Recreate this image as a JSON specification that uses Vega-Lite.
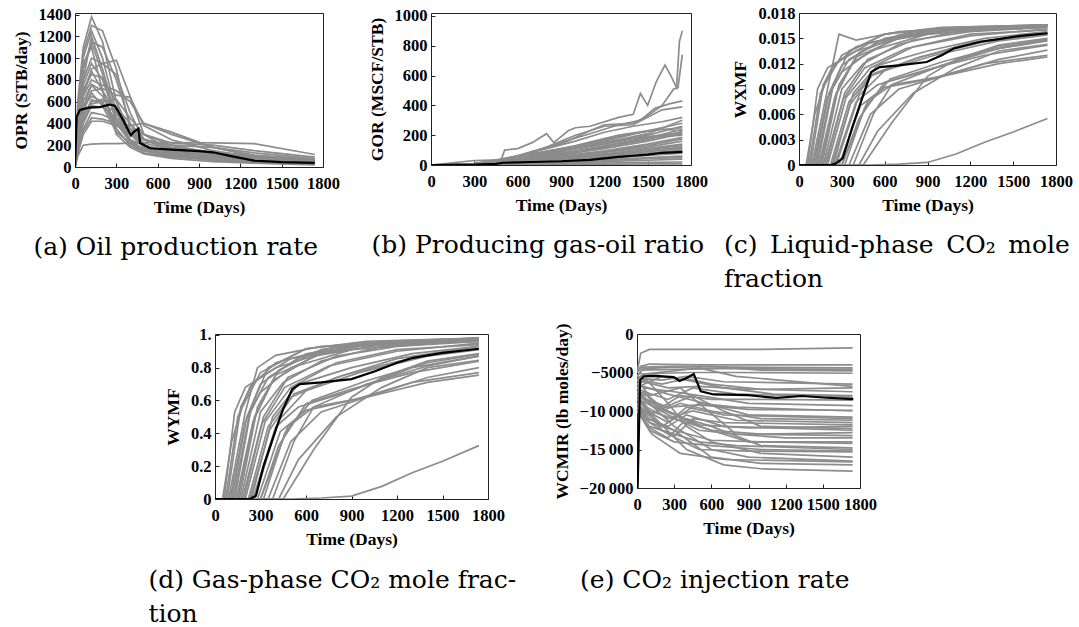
{
"$schema": "https://vega.github.io/schema/vega-lite/v6.json",
"padding": {"left": 11, "top": 4, "right": 0, "bottom": 0},
"background": "white",
"config": {
  "view": {"stroke": "#222", "strokeWidth": 1},
  "axis": {"domain": false, "grid": false, "labelFont": "Liberation Serif", "labelFontWeight": "bold", "labelFontSize": 16.5, "labelColor": "black", "titleFont": "Liberation Serif", "titleFontWeight": "bold", "titleFontSize": 17.5, "titleColor": "black", "tickColor": "#222", "tickSize": -4, "labelOverlap": false, "labelFlush": false, "labelBound": false},
  "axisX": {"labelPadding": 12, "titlePadding": 7},
  "axisY": {"labelPadding": 8, "titlePadding": 8},
  "title": {"font": "DejaVu Serif", "fontSize": 25, "fontWeight": "normal", "color": "black"},
  "line": {"strokeWidth": 1.7}
},
"datasets": {
"a": [
{"s":1,"t":0,"v":0},{"s":1,"t":20,"v":600},{"s":1,"t":60,"v":1100},{"s":1,"t":120,"v":1380},{"s":1,"t":200,"v":1150},{"s":1,"t":300,"v":600},{"s":1,"t":400,"v":300},{"s":1,"t":500,"v":180},{"s":1,"t":700,"v":120},{"s":1,"t":1000,"v":80},{"s":1,"t":1300,"v":55},{"s":1,"t":1740,"v":35},
{"s":2,"t":0,"v":0},{"s":2,"t":20,"v":500},{"s":2,"t":60,"v":1000},{"s":2,"t":120,"v":1250},{"s":2,"t":200,"v":1000},{"s":2,"t":300,"v":500},{"s":2,"t":400,"v":250},{"s":2,"t":500,"v":150},{"s":2,"t":700,"v":100},{"s":2,"t":1000,"v":70},{"s":2,"t":1300,"v":50},{"s":2,"t":1740,"v":30},
{"s":3,"t":0,"v":0},{"s":3,"t":20,"v":450},{"s":3,"t":60,"v":900},{"s":3,"t":120,"v":1150},{"s":3,"t":200,"v":1100},{"s":3,"t":300,"v":800},{"s":3,"t":400,"v":400},{"s":3,"t":500,"v":200},{"s":3,"t":700,"v":120},{"s":3,"t":1000,"v":80},{"s":3,"t":1300,"v":50},{"s":3,"t":1740,"v":30},
{"s":4,"t":0,"v":0},{"s":4,"t":20,"v":400},{"s":4,"t":60,"v":800},{"s":4,"t":120,"v":1000},{"s":4,"t":200,"v":950},{"s":4,"t":300,"v":980},{"s":4,"t":400,"v":650},{"s":4,"t":500,"v":300},{"s":4,"t":700,"v":150},{"s":4,"t":1000,"v":100},{"s":4,"t":1300,"v":60},{"s":4,"t":1740,"v":40},
{"s":5,"t":0,"v":0},{"s":5,"t":20,"v":350},{"s":5,"t":60,"v":750},{"s":5,"t":120,"v":950},{"s":5,"t":200,"v":800},{"s":5,"t":300,"v":450},{"s":5,"t":400,"v":250},{"s":5,"t":500,"v":160},{"s":5,"t":700,"v":110},{"s":5,"t":1000,"v":80},{"s":5,"t":1300,"v":55},{"s":5,"t":1740,"v":40},
{"s":6,"t":0,"v":0},{"s":6,"t":20,"v":300},{"s":6,"t":60,"v":700},{"s":6,"t":120,"v":880},{"s":6,"t":200,"v":700},{"s":6,"t":300,"v":350},{"s":6,"t":400,"v":200},{"s":6,"t":500,"v":130},{"s":6,"t":700,"v":90},{"s":6,"t":1000,"v":70},{"s":6,"t":1300,"v":50},{"s":6,"t":1740,"v":35},
{"s":7,"t":0,"v":0},{"s":7,"t":20,"v":300},{"s":7,"t":60,"v":650},{"s":7,"t":120,"v":800},{"s":7,"t":200,"v":750},{"s":7,"t":300,"v":700},{"s":7,"t":400,"v":600},{"s":7,"t":500,"v":400},{"s":7,"t":700,"v":300},{"s":7,"t":1000,"v":180},{"s":7,"t":1300,"v":100},{"s":7,"t":1740,"v":60},
{"s":8,"t":0,"v":0},{"s":8,"t":20,"v":250},{"s":8,"t":60,"v":550},{"s":8,"t":120,"v":750},{"s":8,"t":200,"v":650},{"s":8,"t":300,"v":400},{"s":8,"t":400,"v":250},{"s":8,"t":500,"v":200},{"s":8,"t":700,"v":130},{"s":8,"t":1000,"v":90},{"s":8,"t":1300,"v":60},{"s":8,"t":1740,"v":45},
{"s":9,"t":0,"v":0},{"s":9,"t":20,"v":250},{"s":9,"t":60,"v":500},{"s":9,"t":120,"v":700},{"s":9,"t":200,"v":720},{"s":9,"t":300,"v":660},{"s":9,"t":400,"v":640},{"s":9,"t":500,"v":380},{"s":9,"t":700,"v":250},{"s":9,"t":1000,"v":150},{"s":9,"t":1300,"v":90},{"s":9,"t":1740,"v":60},
{"s":10,"t":0,"v":0},{"s":10,"t":20,"v":200},{"s":10,"t":60,"v":450},{"s":10,"t":120,"v":620},{"s":10,"t":200,"v":580},{"s":10,"t":300,"v":500},{"s":10,"t":400,"v":350},{"s":10,"t":500,"v":250},{"s":10,"t":700,"v":200},{"s":10,"t":1000,"v":120},{"s":10,"t":1300,"v":80},{"s":10,"t":1740,"v":50},
{"s":11,"t":0,"v":0},{"s":11,"t":20,"v":200},{"s":11,"t":60,"v":400},{"s":11,"t":120,"v":560},{"s":11,"t":200,"v":550},{"s":11,"t":300,"v":450},{"s":11,"t":400,"v":300},{"s":11,"t":500,"v":250},{"s":11,"t":700,"v":180},{"s":11,"t":1000,"v":140},{"s":11,"t":1300,"v":100},{"s":11,"t":1740,"v":70},
{"s":12,"t":0,"v":0},{"s":12,"t":20,"v":150},{"s":12,"t":60,"v":350},{"s":12,"t":120,"v":500},{"s":12,"t":200,"v":480},{"s":12,"t":300,"v":420},{"s":12,"t":400,"v":380},{"s":12,"t":500,"v":400},{"s":12,"t":700,"v":320},{"s":12,"t":1000,"v":180},{"s":12,"t":1300,"v":110},{"s":12,"t":1740,"v":70},
{"s":13,"t":0,"v":0},{"s":13,"t":20,"v":150},{"s":13,"t":60,"v":330},{"s":13,"t":120,"v":450},{"s":13,"t":200,"v":440},{"s":13,"t":300,"v":400},{"s":13,"t":400,"v":350},{"s":13,"t":500,"v":300},{"s":13,"t":700,"v":220},{"s":13,"t":1000,"v":200},{"s":13,"t":1300,"v":150},{"s":13,"t":1740,"v":90},
{"s":14,"t":0,"v":0},{"s":14,"t":20,"v":120},{"s":14,"t":60,"v":300},{"s":14,"t":120,"v":420},{"s":14,"t":200,"v":420},{"s":14,"t":300,"v":380},{"s":14,"t":400,"v":300},{"s":14,"t":500,"v":250},{"s":14,"t":700,"v":200},{"s":14,"t":1000,"v":180},{"s":14,"t":1300,"v":130},{"s":14,"t":1740,"v":80},
{"s":15,"t":0,"v":0},{"s":15,"t":20,"v":100},{"s":15,"t":60,"v":200},{"s":15,"t":120,"v":210},{"s":15,"t":200,"v":215},{"s":15,"t":300,"v":215},{"s":15,"t":400,"v":220},{"s":15,"t":500,"v":225},{"s":15,"t":700,"v":225},{"s":15,"t":1000,"v":222},{"s":15,"t":1300,"v":215},{"s":15,"t":1740,"v":115},
{"s":16,"t":0,"v":0},{"s":16,"t":20,"v":350},{"s":16,"t":60,"v":800},{"s":16,"t":120,"v":1200},{"s":16,"t":200,"v":900},{"s":16,"t":300,"v":450},{"s":16,"t":400,"v":220},{"s":16,"t":500,"v":150},{"s":16,"t":700,"v":100},{"s":16,"t":1000,"v":60},{"s":16,"t":1300,"v":40},{"s":16,"t":1740,"v":25},
{"s":17,"t":0,"v":0},{"s":17,"t":20,"v":450},{"s":17,"t":60,"v":950},{"s":17,"t":120,"v":1100},{"s":17,"t":200,"v":700},{"s":17,"t":300,"v":300},{"s":17,"t":400,"v":180},{"s":17,"t":500,"v":120},{"s":17,"t":700,"v":80},{"s":17,"t":1000,"v":50},{"s":17,"t":1300,"v":35},{"s":17,"t":1740,"v":20},
{"s":18,"t":0,"v":0},{"s":18,"t":20,"v":300},{"s":18,"t":60,"v":650},{"s":18,"t":120,"v":900},{"s":18,"t":200,"v":950},{"s":18,"t":300,"v":850},{"s":18,"t":400,"v":500},{"s":18,"t":500,"v":250},{"s":18,"t":700,"v":150},{"s":18,"t":1000,"v":90},{"s":18,"t":1300,"v":60},{"s":18,"t":1740,"v":40},
{"s":19,"t":0,"v":0},{"s":19,"t":20,"v":250},{"s":19,"t":60,"v":550},{"s":19,"t":120,"v":650},{"s":19,"t":200,"v":600},{"s":19,"t":300,"v":350},{"s":19,"t":400,"v":200},{"s":19,"t":500,"v":150},{"s":19,"t":700,"v":120},{"s":19,"t":1000,"v":100},{"s":19,"t":1300,"v":70},{"s":19,"t":1740,"v":50},
{"s":20,"t":0,"v":0},{"s":20,"t":20,"v":200},{"s":20,"t":60,"v":420},{"s":20,"t":120,"v":580},{"s":20,"t":200,"v":600},{"s":20,"t":300,"v":620},{"s":20,"t":400,"v":450},{"s":20,"t":500,"v":300},{"s":20,"t":700,"v":200},{"s":20,"t":1000,"v":130},{"s":20,"t":1300,"v":90},{"s":20,"t":1740,"v":60},
{"s":21,"t":0,"v":0},{"s":21,"t":20,"v":500},{"s":21,"t":60,"v":1050},{"s":21,"t":120,"v":1300},{"s":21,"t":200,"v":1250},{"s":21,"t":300,"v":900},{"s":21,"t":400,"v":350},{"s":21,"t":500,"v":200},{"s":21,"t":700,"v":130},{"s":21,"t":1000,"v":80},{"s":21,"t":1300,"v":50},{"s":21,"t":1740,"v":30},
{"s":22,"t":0,"v":0},{"s":22,"t":20,"v":400},{"s":22,"t":60,"v":900},{"s":22,"t":120,"v":1150},{"s":22,"t":200,"v":850},{"s":22,"t":300,"v":400},{"s":22,"t":400,"v":230},{"s":22,"t":500,"v":160},{"s":22,"t":700,"v":110},{"s":22,"t":1000,"v":70},{"s":22,"t":1300,"v":45},{"s":22,"t":1740,"v":30},
{"s":23,"t":0,"v":0},{"s":23,"t":20,"v":350},{"s":23,"t":60,"v":700},{"s":23,"t":120,"v":850},{"s":23,"t":200,"v":820},{"s":23,"t":300,"v":600},{"s":23,"t":400,"v":320},{"s":23,"t":500,"v":200},{"s":23,"t":700,"v":140},{"s":23,"t":1000,"v":100},{"s":23,"t":1300,"v":65},{"s":23,"t":1740,"v":45},
{"s":24,"t":0,"v":0},{"s":24,"t":20,"v":300},{"s":24,"t":60,"v":600},{"s":24,"t":120,"v":760},{"s":24,"t":200,"v":700},{"s":24,"t":300,"v":500},{"s":24,"t":400,"v":300},{"s":24,"t":500,"v":220},{"s":24,"t":700,"v":160},{"s":24,"t":1000,"v":110},{"s":24,"t":1300,"v":75},{"s":24,"t":1740,"v":50},
{"s":25,"t":0,"v":0},{"s":25,"t":20,"v":280},{"s":25,"t":60,"v":560},{"s":25,"t":120,"v":680},{"s":25,"t":200,"v":560},{"s":25,"t":300,"v":320},{"s":25,"t":400,"v":220},{"s":25,"t":500,"v":170},{"s":25,"t":700,"v":130},{"s":25,"t":1000,"v":100},{"s":25,"t":1300,"v":75},{"s":25,"t":1740,"v":55},
{"s":26,"t":0,"v":0},{"s":26,"t":20,"v":220},{"s":26,"t":60,"v":480},{"s":26,"t":120,"v":600},{"s":26,"t":200,"v":620},{"s":26,"t":300,"v":550},{"s":26,"t":400,"v":400},{"s":26,"t":500,"v":260},{"s":26,"t":700,"v":170},{"s":26,"t":1000,"v":120},{"s":26,"t":1300,"v":85},{"s":26,"t":1740,"v":55}
],
"am": [
{"t":0,"v":0},{"t":12,"v":460},{"t":36,"v":525},{"t":100,"v":545},{"t":180,"v":550},{"t":250,"v":572},{"t":290,"v":562},{"t":350,"v":430},{"t":405,"v":292},{"t":425,"v":320},{"t":460,"v":352},{"t":472,"v":220},{"t":545,"v":172},{"t":700,"v":160},{"t":900,"v":145},{"t":1000,"v":135},{"t":1150,"v":95},{"t":1300,"v":58},{"t":1500,"v":45},{"t":1740,"v":38}
],
"b": [
{"s":1,"t":0,"v":0},{"s":1,"t":300,"v":5},{"s":1,"t":480,"v":20},{"s":1,"t":510,"v":100},{"s":1,"t":600,"v":110},{"s":1,"t":700,"v":150},{"s":1,"t":800,"v":210},{"s":1,"t":850,"v":150},{"s":1,"t":950,"v":230},{"s":1,"t":1000,"v":250},{"s":1,"t":1100,"v":260},{"s":1,"t":1300,"v":320},{"s":1,"t":1400,"v":340},{"s":1,"t":1450,"v":480},{"s":1,"t":1500,"v":400},{"s":1,"t":1560,"v":560},{"s":1,"t":1620,"v":670},{"s":1,"t":1660,"v":600},{"s":1,"t":1700,"v":520},{"s":1,"t":1720,"v":830},{"s":1,"t":1740,"v":900},
{"s":2,"t":0,"v":0},{"s":2,"t":300,"v":5},{"s":2,"t":500,"v":30},{"s":2,"t":700,"v":90},{"s":2,"t":900,"v":140},{"s":2,"t":1100,"v":230},{"s":2,"t":1200,"v":270},{"s":2,"t":1400,"v":280},{"s":2,"t":1500,"v":330},{"s":2,"t":1600,"v":400},{"s":2,"t":1680,"v":510},{"s":2,"t":1710,"v":520},{"s":2,"t":1740,"v":740},
{"s":3,"t":0,"v":0},{"s":3,"t":300,"v":5},{"s":3,"t":600,"v":50},{"s":3,"t":900,"v":150},{"s":3,"t":1100,"v":210},{"s":3,"t":1300,"v":270},{"s":3,"t":1450,"v":300},{"s":3,"t":1550,"v":380},{"s":3,"t":1650,"v":410},{"s":3,"t":1740,"v":430},
{"s":4,"t":0,"v":0},{"s":4,"t":300,"v":8},{"s":4,"t":600,"v":60},{"s":4,"t":800,"v":120},{"s":4,"t":1000,"v":200},{"s":4,"t":1200,"v":260},{"s":4,"t":1400,"v":270},{"s":4,"t":1600,"v":370},{"s":4,"t":1740,"v":390},
{"s":5,"t":0,"v":0},{"s":5,"t":300,"v":10},{"s":5,"t":500,"v":40},{"s":5,"t":800,"v":110},{"s":5,"t":1000,"v":160},{"s":5,"t":1200,"v":220},{"s":5,"t":1400,"v":260},{"s":5,"t":1600,"v":290},{"s":5,"t":1740,"v":320},
{"s":6,"t":0,"v":0},{"s":6,"t":300,"v":10},{"s":6,"t":600,"v":50},{"s":6,"t":900,"v":100},{"s":6,"t":1200,"v":160},{"s":6,"t":1500,"v":230},{"s":6,"t":1740,"v":280},
{"s":7,"t":0,"v":0},{"s":7,"t":300,"v":8},{"s":7,"t":600,"v":40},{"s":7,"t":900,"v":90},{"s":7,"t":1200,"v":140},{"s":7,"t":1500,"v":200},{"s":7,"t":1740,"v":260},
{"s":8,"t":0,"v":0},{"s":8,"t":300,"v":6},{"s":8,"t":600,"v":35},{"s":8,"t":900,"v":80},{"s":8,"t":1200,"v":120},{"s":8,"t":1500,"v":180},{"s":8,"t":1740,"v":240},
{"s":9,"t":0,"v":0},{"s":9,"t":300,"v":5},{"s":9,"t":600,"v":30},{"s":9,"t":900,"v":70},{"s":9,"t":1200,"v":110},{"s":9,"t":1500,"v":160},{"s":9,"t":1740,"v":210},
{"s":10,"t":0,"v":0},{"s":10,"t":300,"v":4},{"s":10,"t":600,"v":25},{"s":10,"t":900,"v":60},{"s":10,"t":1200,"v":95},{"s":10,"t":1500,"v":140},{"s":10,"t":1740,"v":185},
{"s":11,"t":0,"v":0},{"s":11,"t":300,"v":3},{"s":11,"t":600,"v":20},{"s":11,"t":900,"v":50},{"s":11,"t":1200,"v":85},{"s":11,"t":1500,"v":120},{"s":11,"t":1740,"v":160},
{"s":12,"t":0,"v":0},{"s":12,"t":300,"v":3},{"s":12,"t":600,"v":18},{"s":12,"t":900,"v":45},{"s":12,"t":1200,"v":75},{"s":12,"t":1500,"v":110},{"s":12,"t":1740,"v":140},
{"s":13,"t":0,"v":0},{"s":13,"t":300,"v":2},{"s":13,"t":600,"v":15},{"s":13,"t":900,"v":40},{"s":13,"t":1200,"v":65},{"s":13,"t":1500,"v":95},{"s":13,"t":1740,"v":120},
{"s":14,"t":0,"v":0},{"s":14,"t":300,"v":2},{"s":14,"t":600,"v":12},{"s":14,"t":900,"v":30},{"s":14,"t":1200,"v":55},{"s":14,"t":1500,"v":80},{"s":14,"t":1740,"v":100},
{"s":15,"t":0,"v":0},{"s":15,"t":300,"v":2},{"s":15,"t":600,"v":10},{"s":15,"t":900,"v":25},{"s":15,"t":1200,"v":45},{"s":15,"t":1500,"v":65},{"s":15,"t":1740,"v":80},
{"s":16,"t":0,"v":0},{"s":16,"t":300,"v":1},{"s":16,"t":600,"v":8},{"s":16,"t":900,"v":20},{"s":16,"t":1200,"v":35},{"s":16,"t":1500,"v":50},{"s":16,"t":1740,"v":60},
{"s":17,"t":0,"v":0},{"s":17,"t":300,"v":1},{"s":17,"t":600,"v":5},{"s":17,"t":900,"v":12},{"s":17,"t":1200,"v":22},{"s":17,"t":1500,"v":32},{"s":17,"t":1740,"v":40},
{"s":18,"t":0,"v":0},{"s":18,"t":300,"v":1},{"s":18,"t":600,"v":3},{"s":18,"t":900,"v":6},{"s":18,"t":1200,"v":12},{"s":18,"t":1500,"v":18},{"s":18,"t":1740,"v":20},
{"s":19,"t":0,"v":0},{"s":19,"t":300,"v":0},{"s":19,"t":600,"v":1},{"s":19,"t":900,"v":3},{"s":19,"t":1200,"v":5},{"s":19,"t":1500,"v":7},{"s":19,"t":1740,"v":8},
{"s":20,"t":0,"v":0},{"s":20,"t":300,"v":6},{"s":20,"t":500,"v":35},{"s":20,"t":700,"v":70},{"s":20,"t":1000,"v":130},{"s":20,"t":1300,"v":200},{"s":20,"t":1500,"v":230},{"s":20,"t":1740,"v":250},
{"s":21,"t":0,"v":0},{"s":21,"t":300,"v":4},{"s":21,"t":600,"v":30},{"s":21,"t":900,"v":100},{"s":21,"t":1200,"v":170},{"s":21,"t":1400,"v":210},{"s":21,"t":1600,"v":240},{"s":21,"t":1740,"v":230},
{"s":22,"t":0,"v":0},{"s":22,"t":300,"v":30},{"s":22,"t":480,"v":35},{"s":22,"t":600,"v":60},{"s":22,"t":900,"v":110},{"s":22,"t":1200,"v":150},{"s":22,"t":1500,"v":190},{"s":22,"t":1740,"v":215},
{"s":23,"t":0,"v":0},{"s":23,"t":300,"v":3},{"s":23,"t":600,"v":22},{"s":23,"t":900,"v":65},{"s":23,"t":1200,"v":120},{"s":23,"t":1500,"v":170},{"s":23,"t":1740,"v":225},
{"s":24,"t":0,"v":0},{"s":24,"t":300,"v":2},{"s":24,"t":600,"v":16},{"s":24,"t":900,"v":50},{"s":24,"t":1200,"v":90},{"s":24,"t":1500,"v":130},{"s":24,"t":1740,"v":175},
{"s":25,"t":0,"v":0},{"s":25,"t":300,"v":2},{"s":25,"t":600,"v":12},{"s":25,"t":900,"v":35},{"s":25,"t":1200,"v":70},{"s":25,"t":1500,"v":105},{"s":25,"t":1740,"v":130},
{"s":26,"t":0,"v":0},{"s":26,"t":300,"v":1},{"s":26,"t":600,"v":9},{"s":26,"t":900,"v":28},{"s":26,"t":1200,"v":50},{"s":26,"t":1500,"v":75},{"s":26,"t":1740,"v":90},
{"s":27,"t":0,"v":0},{"s":27,"t":300,"v":4},{"s":27,"t":600,"v":28},{"s":27,"t":900,"v":75},{"s":27,"t":1200,"v":130},{"s":27,"t":1500,"v":185},{"s":27,"t":1740,"v":200},
{"s":28,"t":0,"v":0},{"s":28,"t":300,"v":1},{"s":28,"t":600,"v":6},{"s":28,"t":900,"v":16},{"s":28,"t":1200,"v":30},{"s":28,"t":1500,"v":42},{"s":28,"t":1740,"v":50},
{"s":29,"t":0,"v":0},{"s":29,"t":300,"v":5},{"s":29,"t":600,"v":35},{"s":29,"t":900,"v":90},{"s":29,"t":1200,"v":150},{"s":29,"t":1500,"v":210},{"s":29,"t":1740,"v":300},
{"s":30,"t":0,"v":0},{"s":30,"t":300,"v":2},{"s":30,"t":600,"v":14},{"s":30,"t":900,"v":38},{"s":30,"t":1200,"v":60},{"s":30,"t":1500,"v":90},{"s":30,"t":1740,"v":110}
],
"bm": [
{"t":0,"v":0},{"t":300,"v":2},{"t":450,"v":8},{"t":500,"v":15},{"t":700,"v":20},{"t":900,"v":25},{"t":1100,"v":35},{"t":1200,"v":45},{"t":1300,"v":55},{"t":1400,"v":62},{"t":1500,"v":70},{"t":1600,"v":82},{"t":1740,"v":88}
],
"c": [
{"s":1,"t":0,"v":0},{"s":1,"t":60,"v":0},{"s":1,"t":130,"v":0.009},{"s":1,"t":200,"v":0.0115},{"s":1,"t":400,"v":0.0135},{"s":1,"t":700,"v":0.015},{"s":1,"t":1000,"v":0.016},{"s":1,"t":1740,"v":0.0165},
{"s":2,"t":0,"v":0},{"s":2,"t":80,"v":0},{"s":2,"t":170,"v":0.0095},{"s":2,"t":250,"v":0.012},{"s":2,"t":500,"v":0.0145},{"s":2,"t":900,"v":0.0158},{"s":2,"t":1740,"v":0.0163},
{"s":3,"t":0,"v":0},{"s":3,"t":100,"v":0},{"s":3,"t":200,"v":0.008},{"s":3,"t":300,"v":0.011},{"s":3,"t":500,"v":0.0135},{"s":3,"t":900,"v":0.0155},{"s":3,"t":1740,"v":0.0165},
{"s":4,"t":0,"v":0},{"s":4,"t":120,"v":0},{"s":4,"t":230,"v":0.009},{"s":4,"t":350,"v":0.0125},{"s":4,"t":600,"v":0.015},{"s":4,"t":1000,"v":0.016},{"s":4,"t":1740,"v":0.0166},
{"s":5,"t":0,"v":0},{"s":5,"t":150,"v":0},{"s":5,"t":260,"v":0.0085},{"s":5,"t":400,"v":0.0128},{"s":5,"t":700,"v":0.015},{"s":5,"t":1100,"v":0.0162},{"s":5,"t":1740,"v":0.0166},
{"s":6,"t":0,"v":0},{"s":6,"t":170,"v":0},{"s":6,"t":300,"v":0.009},{"s":6,"t":450,"v":0.012},{"s":6,"t":700,"v":0.0143},{"s":6,"t":1100,"v":0.0158},{"s":6,"t":1740,"v":0.0164},
{"s":7,"t":0,"v":0},{"s":7,"t":200,"v":0},{"s":7,"t":330,"v":0.008},{"s":7,"t":500,"v":0.0115},{"s":7,"t":800,"v":0.014},{"s":7,"t":1200,"v":0.0155},{"s":7,"t":1740,"v":0.016},
{"s":8,"t":0,"v":0},{"s":8,"t":220,"v":0},{"s":8,"t":350,"v":0.0075},{"s":8,"t":500,"v":0.0105},{"s":8,"t":800,"v":0.0125},{"s":8,"t":1200,"v":0.0145},{"s":8,"t":1740,"v":0.0157},
{"s":9,"t":0,"v":0},{"s":9,"t":250,"v":0},{"s":9,"t":400,"v":0.0075},{"s":9,"t":550,"v":0.0095},{"s":9,"t":900,"v":0.0112},{"s":9,"t":1300,"v":0.0135},{"s":9,"t":1740,"v":0.0148},
{"s":10,"t":0,"v":0},{"s":10,"t":280,"v":0},{"s":10,"t":430,"v":0.007},{"s":10,"t":600,"v":0.0092},{"s":10,"t":900,"v":0.0101},{"s":10,"t":1300,"v":0.012},{"s":10,"t":1740,"v":0.013},
{"s":11,"t":0,"v":0},{"s":11,"t":300,"v":0},{"s":11,"t":480,"v":0.0075},{"s":11,"t":650,"v":0.0095},{"s":11,"t":1000,"v":0.0105},{"s":11,"t":1400,"v":0.012},{"s":11,"t":1740,"v":0.0128},
{"s":12,"t":0,"v":0},{"s":12,"t":350,"v":0},{"s":12,"t":500,"v":0.006},{"s":12,"t":700,"v":0.009},{"s":12,"t":1000,"v":0.0105},{"s":12,"t":1400,"v":0.0125},{"s":12,"t":1740,"v":0.0136},
{"s":13,"t":0,"v":0},{"s":13,"t":420,"v":0},{"s":13,"t":550,"v":0.004},{"s":13,"t":800,"v":0.0085},{"s":13,"t":1100,"v":0.0115},{"s":13,"t":1400,"v":0.0135},{"s":13,"t":1740,"v":0.0143},
{"s":14,"t":0,"v":0},{"s":14,"t":450,"v":0},{"s":14,"t":650,"v":0.005},{"s":14,"t":900,"v":0.0105},{"s":14,"t":1100,"v":0.0125},{"s":14,"t":1400,"v":0.0142},{"s":14,"t":1740,"v":0.015},
{"s":15,"t":0,"v":0},{"s":15,"t":500,"v":0},{"s":15,"t":700,"v":0.0001},{"s":15,"t":900,"v":0.0003},{"s":15,"t":1100,"v":0.0013},{"s":15,"t":1300,"v":0.0027},{"s":15,"t":1500,"v":0.0039},{"s":15,"t":1740,"v":0.0055},
{"s":16,"t":0,"v":0},{"s":16,"t":90,"v":0},{"s":16,"t":200,"v":0.009},{"s":16,"t":280,"v":0.0155},{"s":16,"t":400,"v":0.0148},{"s":16,"t":700,"v":0.0158},{"s":16,"t":1740,"v":0.0166},
{"s":17,"t":0,"v":0},{"s":17,"t":130,"v":0},{"s":17,"t":240,"v":0.0095},{"s":17,"t":350,"v":0.0135},{"s":17,"t":600,"v":0.0155},{"s":17,"t":1000,"v":0.0162},{"s":17,"t":1740,"v":0.0165},
{"s":18,"t":0,"v":0},{"s":18,"t":180,"v":0},{"s":18,"t":320,"v":0.0085},{"s":18,"t":480,"v":0.0125},{"s":18,"t":800,"v":0.0148},{"s":18,"t":1200,"v":0.0158},{"s":18,"t":1740,"v":0.0163},
{"s":19,"t":0,"v":0},{"s":19,"t":240,"v":0},{"s":19,"t":380,"v":0.0085},{"s":19,"t":550,"v":0.0118},{"s":19,"t":900,"v":0.0135},{"s":19,"t":1300,"v":0.015},{"s":19,"t":1740,"v":0.0158},
{"s":20,"t":0,"v":0},{"s":20,"t":300,"v":0},{"s":20,"t":420,"v":0.0055},{"s":20,"t":600,"v":0.0098},{"s":20,"t":900,"v":0.0113},{"s":20,"t":1300,"v":0.013},{"s":20,"t":1740,"v":0.0142},
{"s":21,"t":0,"v":0},{"s":21,"t":380,"v":0},{"s":21,"t":520,"v":0.006},{"s":21,"t":650,"v":0.0095},{"s":21,"t":1000,"v":0.0118},{"s":21,"t":1400,"v":0.0138},{"s":21,"t":1740,"v":0.0147},
{"s":22,"t":0,"v":0},{"s":22,"t":50,"v":0},{"s":22,"t":110,"v":0.006},{"s":22,"t":180,"v":0.0095},{"s":22,"t":300,"v":0.013},{"s":22,"t":600,"v":0.0155},{"s":22,"t":1000,"v":0.0163},{"s":22,"t":1740,"v":0.0166},
{"s":23,"t":0,"v":0},{"s":23,"t":70,"v":0},{"s":23,"t":150,"v":0.0085},{"s":23,"t":230,"v":0.0115},{"s":23,"t":400,"v":0.014},{"s":23,"t":800,"v":0.0158},{"s":23,"t":1740,"v":0.0165},
{"s":24,"t":0,"v":0},{"s":24,"t":110,"v":0},{"s":24,"t":210,"v":0.0085},{"s":24,"t":300,"v":0.0118},{"s":24,"t":550,"v":0.0146},{"s":24,"t":1000,"v":0.016},{"s":24,"t":1740,"v":0.0165},
{"s":25,"t":0,"v":0},{"s":25,"t":140,"v":0},{"s":25,"t":250,"v":0.008},{"s":25,"t":380,"v":0.0122},{"s":25,"t":650,"v":0.0148},{"s":25,"t":1100,"v":0.016},{"s":25,"t":1740,"v":0.0164},
{"s":26,"t":0,"v":0},{"s":26,"t":190,"v":0},{"s":26,"t":310,"v":0.0078},{"s":26,"t":460,"v":0.0115},{"s":26,"t":750,"v":0.0138},{"s":26,"t":1200,"v":0.0153},{"s":26,"t":1740,"v":0.0161},
{"s":27,"t":0,"v":0},{"s":27,"t":230,"v":0},{"s":27,"t":360,"v":0.0072},{"s":27,"t":520,"v":0.0108},{"s":27,"t":850,"v":0.0128},{"s":27,"t":1300,"v":0.0146},{"s":27,"t":1740,"v":0.0155},
{"s":28,"t":0,"v":0},{"s":28,"t":260,"v":0},{"s":28,"t":420,"v":0.0082},{"s":28,"t":600,"v":0.0112},{"s":28,"t":950,"v":0.013},{"s":28,"t":1400,"v":0.0147},{"s":28,"t":1740,"v":0.0154},
{"s":29,"t":0,"v":0},{"s":29,"t":160,"v":0},{"s":29,"t":280,"v":0.0095},{"s":29,"t":420,"v":0.0133},{"s":29,"t":700,"v":0.0154},{"s":29,"t":1100,"v":0.0163},{"s":29,"t":1740,"v":0.0166},
{"s":30,"t":0,"v":0},{"s":30,"t":320,"v":0},{"s":30,"t":460,"v":0.0068},{"s":30,"t":640,"v":0.0102},{"s":30,"t":1000,"v":0.0122},{"s":30,"t":1400,"v":0.014},{"s":30,"t":1740,"v":0.0149}
],
"cm": [
{"t":0,"v":0},{"t":224,"v":0},{"t":260,"v":0.0002},{"t":306,"v":0.0008},{"t":376,"v":0.0046},{"t":440,"v":0.0078},{"t":506,"v":0.011},{"t":565,"v":0.0116},{"t":700,"v":0.0118},{"t":894,"v":0.0122},{"t":1000,"v":0.013},{"t":1083,"v":0.0138},{"t":1271,"v":0.0146},{"t":1400,"v":0.0149},{"t":1553,"v":0.0153},{"t":1741,"v":0.0156}
],
"d": [
{"s":1,"t":0,"v":0},{"s":1,"t":60,"v":0},{"s":1,"t":130,"v":0.53},{"s":1,"t":200,"v":0.68},{"s":1,"t":400,"v":0.8},{"s":1,"t":700,"v":0.885},{"s":1,"t":1000,"v":0.94},{"s":1,"t":1740,"v":0.97},
{"s":2,"t":0,"v":0},{"s":2,"t":80,"v":0},{"s":2,"t":170,"v":0.56},{"s":2,"t":250,"v":0.71},{"s":2,"t":500,"v":0.855},{"s":2,"t":900,"v":0.93},{"s":2,"t":1740,"v":0.96},
{"s":3,"t":0,"v":0},{"s":3,"t":100,"v":0},{"s":3,"t":200,"v":0.47},{"s":3,"t":300,"v":0.65},{"s":3,"t":500,"v":0.8},{"s":3,"t":900,"v":0.91},{"s":3,"t":1740,"v":0.97},
{"s":4,"t":0,"v":0},{"s":4,"t":120,"v":0},{"s":4,"t":230,"v":0.53},{"s":4,"t":350,"v":0.74},{"s":4,"t":600,"v":0.885},{"s":4,"t":1000,"v":0.94},{"s":4,"t":1740,"v":0.98},
{"s":5,"t":0,"v":0},{"s":5,"t":150,"v":0},{"s":5,"t":260,"v":0.5},{"s":5,"t":400,"v":0.755},{"s":5,"t":700,"v":0.885},{"s":5,"t":1100,"v":0.955},{"s":5,"t":1740,"v":0.98},
{"s":6,"t":0,"v":0},{"s":6,"t":170,"v":0},{"s":6,"t":300,"v":0.53},{"s":6,"t":450,"v":0.71},{"s":6,"t":700,"v":0.84},{"s":6,"t":1100,"v":0.93},{"s":6,"t":1740,"v":0.97},
{"s":7,"t":0,"v":0},{"s":7,"t":200,"v":0},{"s":7,"t":330,"v":0.47},{"s":7,"t":500,"v":0.68},{"s":7,"t":800,"v":0.83},{"s":7,"t":1200,"v":0.91},{"s":7,"t":1740,"v":0.94},
{"s":8,"t":0,"v":0},{"s":8,"t":220,"v":0},{"s":8,"t":350,"v":0.44},{"s":8,"t":500,"v":0.62},{"s":8,"t":800,"v":0.74},{"s":8,"t":1200,"v":0.855},{"s":8,"t":1740,"v":0.93},
{"s":9,"t":0,"v":0},{"s":9,"t":250,"v":0},{"s":9,"t":400,"v":0.44},{"s":9,"t":550,"v":0.56},{"s":9,"t":900,"v":0.66},{"s":9,"t":1300,"v":0.8},{"s":9,"t":1740,"v":0.87},
{"s":10,"t":0,"v":0},{"s":10,"t":280,"v":0},{"s":10,"t":430,"v":0.41},{"s":10,"t":600,"v":0.54},{"s":10,"t":900,"v":0.6},{"s":10,"t":1300,"v":0.71},{"s":10,"t":1740,"v":0.77},
{"s":11,"t":0,"v":0},{"s":11,"t":300,"v":0},{"s":11,"t":480,"v":0.44},{"s":11,"t":650,"v":0.56},{"s":11,"t":1000,"v":0.62},{"s":11,"t":1400,"v":0.71},{"s":11,"t":1740,"v":0.755},
{"s":12,"t":0,"v":0},{"s":12,"t":350,"v":0},{"s":12,"t":500,"v":0.35},{"s":12,"t":700,"v":0.53},{"s":12,"t":1000,"v":0.62},{"s":12,"t":1400,"v":0.74},{"s":12,"t":1740,"v":0.8},
{"s":13,"t":0,"v":0},{"s":13,"t":420,"v":0},{"s":13,"t":550,"v":0.24},{"s":13,"t":800,"v":0.5},{"s":13,"t":1100,"v":0.68},{"s":13,"t":1400,"v":0.8},{"s":13,"t":1740,"v":0.845},
{"s":14,"t":0,"v":0},{"s":14,"t":450,"v":0},{"s":14,"t":650,"v":0.3},{"s":14,"t":900,"v":0.62},{"s":14,"t":1100,"v":0.74},{"s":14,"t":1400,"v":0.84},{"s":14,"t":1740,"v":0.885},
{"s":15,"t":0,"v":0},{"s":15,"t":500,"v":0},{"s":15,"t":700,"v":0.006},{"s":15,"t":900,"v":0.018},{"s":15,"t":1100,"v":0.077},{"s":15,"t":1300,"v":0.16},{"s":15,"t":1500,"v":0.23},{"s":15,"t":1740,"v":0.325},
{"s":16,"t":0,"v":0},{"s":16,"t":90,"v":0},{"s":16,"t":200,"v":0.53},{"s":16,"t":280,"v":0.8},{"s":16,"t":400,"v":0.875},{"s":16,"t":700,"v":0.93},{"s":16,"t":1740,"v":0.98},
{"s":17,"t":0,"v":0},{"s":17,"t":130,"v":0},{"s":17,"t":240,"v":0.56},{"s":17,"t":350,"v":0.8},{"s":17,"t":600,"v":0.915},{"s":17,"t":1000,"v":0.955},{"s":17,"t":1740,"v":0.97},
{"s":18,"t":0,"v":0},{"s":18,"t":180,"v":0},{"s":18,"t":320,"v":0.5},{"s":18,"t":480,"v":0.74},{"s":18,"t":800,"v":0.87},{"s":18,"t":1200,"v":0.93},{"s":18,"t":1740,"v":0.96},
{"s":19,"t":0,"v":0},{"s":19,"t":240,"v":0},{"s":19,"t":380,"v":0.5},{"s":19,"t":550,"v":0.7},{"s":19,"t":900,"v":0.8},{"s":19,"t":1300,"v":0.885},{"s":19,"t":1740,"v":0.93},
{"s":20,"t":0,"v":0},{"s":20,"t":300,"v":0},{"s":20,"t":420,"v":0.325},{"s":20,"t":600,"v":0.58},{"s":20,"t":900,"v":0.67},{"s":20,"t":1300,"v":0.77},{"s":20,"t":1740,"v":0.84},
{"s":21,"t":0,"v":0},{"s":21,"t":380,"v":0},{"s":21,"t":520,"v":0.35},{"s":21,"t":650,"v":0.56},{"s":21,"t":1000,"v":0.7},{"s":21,"t":1400,"v":0.81},{"s":21,"t":1740,"v":0.87},
{"s":22,"t":0,"v":0},{"s":22,"t":50,"v":0},{"s":22,"t":110,"v":0.35},{"s":22,"t":180,"v":0.56},{"s":22,"t":300,"v":0.77},{"s":22,"t":600,"v":0.915},{"s":22,"t":1000,"v":0.96},{"s":22,"t":1740,"v":0.98},
{"s":23,"t":0,"v":0},{"s":23,"t":70,"v":0},{"s":23,"t":150,"v":0.5},{"s":23,"t":230,"v":0.68},{"s":23,"t":400,"v":0.83},{"s":23,"t":800,"v":0.93},{"s":23,"t":1740,"v":0.97},
{"s":24,"t":0,"v":0},{"s":24,"t":110,"v":0},{"s":24,"t":210,"v":0.5},{"s":24,"t":300,"v":0.7},{"s":24,"t":550,"v":0.86},{"s":24,"t":1000,"v":0.94},{"s":24,"t":1740,"v":0.97},
{"s":25,"t":0,"v":0},{"s":25,"t":140,"v":0},{"s":25,"t":250,"v":0.47},{"s":25,"t":380,"v":0.72},{"s":25,"t":650,"v":0.87},{"s":25,"t":1100,"v":0.94},{"s":25,"t":1740,"v":0.97},
{"s":26,"t":0,"v":0},{"s":26,"t":190,"v":0},{"s":26,"t":310,"v":0.46},{"s":26,"t":460,"v":0.68},{"s":26,"t":750,"v":0.81},{"s":26,"t":1200,"v":0.9},{"s":26,"t":1740,"v":0.95},
{"s":27,"t":0,"v":0},{"s":27,"t":230,"v":0},{"s":27,"t":360,"v":0.42},{"s":27,"t":520,"v":0.64},{"s":27,"t":850,"v":0.755},{"s":27,"t":1300,"v":0.86},{"s":27,"t":1740,"v":0.915},
{"s":28,"t":0,"v":0},{"s":28,"t":260,"v":0},{"s":28,"t":420,"v":0.48},{"s":28,"t":600,"v":0.66},{"s":28,"t":950,"v":0.77},{"s":28,"t":1400,"v":0.87},{"s":28,"t":1740,"v":0.91},
{"s":29,"t":0,"v":0},{"s":29,"t":160,"v":0},{"s":29,"t":280,"v":0.56},{"s":29,"t":420,"v":0.785},{"s":29,"t":700,"v":0.91},{"s":29,"t":1100,"v":0.96},{"s":29,"t":1740,"v":0.98},
{"s":30,"t":0,"v":0},{"s":30,"t":320,"v":0},{"s":30,"t":460,"v":0.4},{"s":30,"t":640,"v":0.6},{"s":30,"t":1000,"v":0.72},{"s":30,"t":1400,"v":0.83},{"s":30,"t":1740,"v":0.88}
],
"dm": [
{"t":0,"v":0},{"t":230,"v":0},{"t":270,"v":0.02},{"t":320,"v":0.2},{"t":400,"v":0.42},{"t":450,"v":0.55},{"t":510,"v":0.67},{"t":560,"v":0.7},{"t":700,"v":0.71},{"t":900,"v":0.73},{"t":1060,"v":0.78},{"t":1200,"v":0.83},{"t":1306,"v":0.86},{"t":1500,"v":0.89},{"t":1740,"v":0.915}
],
"e": [
{"s":1,"t":0,"v":-5000},{"s":1,"t":30,"v":-2500},{"s":1,"t":100,"v":-2000},{"s":1,"t":500,"v":-2000},{"s":1,"t":1000,"v":-2000},{"s":1,"t":1740,"v":-1800},
{"s":2,"t":0,"v":-5000},{"s":2,"t":30,"v":-4200},{"s":2,"t":100,"v":-3900},{"s":2,"t":500,"v":-4000},{"s":2,"t":1000,"v":-4000},{"s":2,"t":1740,"v":-4000},
{"s":3,"t":0,"v":-5500},{"s":3,"t":50,"v":-4500},{"s":3,"t":300,"v":-4300},{"s":3,"t":600,"v":-4200},{"s":3,"t":1000,"v":-4700},{"s":3,"t":1740,"v":-4800},
{"s":4,"t":0,"v":-6000},{"s":4,"t":50,"v":-5200},{"s":4,"t":300,"v":-4800},{"s":4,"t":500,"v":-4400},{"s":4,"t":800,"v":-5500},{"s":4,"t":1740,"v":-6800},
{"s":5,"t":0,"v":-7000},{"s":5,"t":50,"v":-6000},{"s":5,"t":200,"v":-6500},{"s":5,"t":400,"v":-5800},{"s":5,"t":600,"v":-6500},{"s":5,"t":1000,"v":-7200},{"s":5,"t":1740,"v":-7500},
{"s":6,"t":0,"v":-8000},{"s":6,"t":50,"v":-7500},{"s":6,"t":200,"v":-9500},{"s":6,"t":350,"v":-8000},{"s":6,"t":600,"v":-8500},{"s":6,"t":1000,"v":-8500},{"s":6,"t":1740,"v":-8600},
{"s":7,"t":0,"v":-9000},{"s":7,"t":60,"v":-10000},{"s":7,"t":200,"v":-12000},{"s":7,"t":300,"v":-11000},{"s":7,"t":500,"v":-9000},{"s":7,"t":800,"v":-9500},{"s":7,"t":1740,"v":-10000},
{"s":8,"t":0,"v":-8500},{"s":8,"t":60,"v":-9500},{"s":8,"t":200,"v":-12500},{"s":8,"t":300,"v":-13300},{"s":8,"t":450,"v":-11000},{"s":8,"t":700,"v":-11500},{"s":8,"t":1740,"v":-11800},
{"s":9,"t":0,"v":-9500},{"s":9,"t":80,"v":-11000},{"s":9,"t":250,"v":-12000},{"s":9,"t":400,"v":-10500},{"s":9,"t":700,"v":-12000},{"s":9,"t":1740,"v":-12500},
{"s":10,"t":0,"v":-10000},{"s":10,"t":100,"v":-12000},{"s":10,"t":300,"v":-13000},{"s":10,"t":500,"v":-14000},{"s":10,"t":800,"v":-14500},{"s":10,"t":1740,"v":-15000},
{"s":11,"t":0,"v":-7000},{"s":11,"t":100,"v":-9000},{"s":11,"t":300,"v":-12000},{"s":11,"t":600,"v":-15000},{"s":11,"t":900,"v":-16000},{"s":11,"t":1740,"v":-16500},
{"s":12,"t":0,"v":-8000},{"s":12,"t":150,"v":-11000},{"s":12,"t":400,"v":-15000},{"s":12,"t":700,"v":-17000},{"s":12,"t":1000,"v":-17500},{"s":12,"t":1740,"v":-17800},
{"s":13,"t":0,"v":-6000},{"s":13,"t":100,"v":-8000},{"s":13,"t":350,"v":-7000},{"s":13,"t":500,"v":-9000},{"s":13,"t":800,"v":-13000},{"s":13,"t":1200,"v":-13500},{"s":13,"t":1740,"v":-13500},
{"s":14,"t":0,"v":-5500},{"s":14,"t":80,"v":-6000},{"s":14,"t":250,"v":-9000},{"s":14,"t":400,"v":-12000},{"s":14,"t":600,"v":-14000},{"s":14,"t":1000,"v":-15500},{"s":14,"t":1740,"v":-16000},
{"s":15,"t":0,"v":-7500},{"s":15,"t":80,"v":-8000},{"s":15,"t":200,"v":-10000},{"s":15,"t":350,"v":-9000},{"s":15,"t":600,"v":-10000},{"s":15,"t":1000,"v":-11000},{"s":15,"t":1740,"v":-11200},
{"s":16,"t":0,"v":-6500},{"s":16,"t":60,"v":-7000},{"s":16,"t":300,"v":-7500},{"s":16,"t":500,"v":-8000},{"s":16,"t":900,"v":-9000},{"s":16,"t":1740,"v":-9300},
{"s":17,"t":0,"v":-9000},{"s":17,"t":100,"v":-10500},{"s":17,"t":300,"v":-9000},{"s":17,"t":450,"v":-8000},{"s":17,"t":700,"v":-10000},{"s":17,"t":1000,"v":-12000},{"s":17,"t":1740,"v":-12300},
{"s":18,"t":0,"v":-7000},{"s":18,"t":60,"v":-6500},{"s":18,"t":200,"v":-5500},{"s":18,"t":400,"v":-6000},{"s":18,"t":700,"v":-7000},{"s":18,"t":1100,"v":-7800},{"s":18,"t":1740,"v":-8000},
{"s":19,"t":0,"v":-10000},{"s":19,"t":100,"v":-11500},{"s":19,"t":250,"v":-13000},{"s":19,"t":500,"v":-15000},{"s":19,"t":900,"v":-15200},{"s":19,"t":1740,"v":-15300},
{"s":20,"t":0,"v":-8500},{"s":20,"t":80,"v":-9000},{"s":20,"t":250,"v":-10500},{"s":20,"t":500,"v":-12500},{"s":20,"t":800,"v":-13000},{"s":20,"t":1740,"v":-13200},
{"s":21,"t":0,"v":-6000},{"s":21,"t":40,"v":-5300},{"s":21,"t":200,"v":-5100},{"s":21,"t":450,"v":-5000},{"s":21,"t":800,"v":-5000},{"s":21,"t":1740,"v":-5100},
{"s":22,"t":0,"v":-9000},{"s":22,"t":80,"v":-12000},{"s":22,"t":250,"v":-13500},{"s":22,"t":400,"v":-11000},{"s":22,"t":600,"v":-12000},{"s":22,"t":1000,"v":-14500},{"s":22,"t":1740,"v":-14800},
{"s":23,"t":0,"v":-5500},{"s":23,"t":40,"v":-4700},{"s":23,"t":300,"v":-4600},{"s":23,"t":700,"v":-4500},{"s":23,"t":1740,"v":-4600},
{"s":24,"t":0,"v":-7000},{"s":24,"t":60,"v":-7500},{"s":24,"t":250,"v":-8500},{"s":24,"t":450,"v":-7000},{"s":24,"t":800,"v":-7800},{"s":24,"t":1740,"v":-8200},
{"s":25,"t":0,"v":-8000},{"s":25,"t":80,"v":-10000},{"s":25,"t":250,"v":-11500},{"s":25,"t":400,"v":-9500},{"s":25,"t":700,"v":-10500},{"s":25,"t":1740,"v":-11000},
{"s":26,"t":0,"v":-9500},{"s":26,"t":100,"v":-12500},{"s":26,"t":300,"v":-14000},{"s":26,"t":600,"v":-14500},{"s":26,"t":1000,"v":-15000},{"s":26,"t":1740,"v":-15200},
{"s":27,"t":0,"v":-8500},{"s":27,"t":100,"v":-10000},{"s":27,"t":300,"v":-11000},{"s":27,"t":600,"v":-12500},{"s":27,"t":1000,"v":-13000},{"s":27,"t":1740,"v":-12800},
{"s":28,"t":0,"v":-7500},{"s":28,"t":80,"v":-9000},{"s":28,"t":300,"v":-10500},{"s":28,"t":500,"v":-12000},{"s":28,"t":900,"v":-14000},{"s":28,"t":1740,"v":-14200},
{"s":29,"t":0,"v":-6500},{"s":29,"t":50,"v":-6200},{"s":29,"t":250,"v":-7000},{"s":29,"t":500,"v":-6800},{"s":29,"t":900,"v":-7200},{"s":29,"t":1740,"v":-7000},
{"s":30,"t":0,"v":-9000},{"s":30,"t":100,"v":-11000},{"s":30,"t":300,"v":-12500},{"s":30,"t":600,"v":-16000},{"s":30,"t":1000,"v":-16800},{"s":30,"t":1740,"v":-17000},
{"s":31,"t":0,"v":-6000},{"s":31,"t":50,"v":-5800},{"s":31,"t":200,"v":-6000},{"s":31,"t":400,"v":-5500},{"s":31,"t":700,"v":-6200},{"s":31,"t":1740,"v":-6500},
{"s":32,"t":0,"v":-8000},{"s":32,"t":80,"v":-9500},{"s":32,"t":250,"v":-11000},{"s":32,"t":450,"v":-10000},{"s":32,"t":800,"v":-11200},{"s":32,"t":1740,"v":-11500},
{"s":33,"t":0,"v":-5000},{"s":33,"t":40,"v":-4300},{"s":33,"t":300,"v":-4200},{"s":33,"t":800,"v":-4300},{"s":33,"t":1740,"v":-4400},
{"s":34,"t":0,"v":-7500},{"s":34,"t":80,"v":-8500},{"s":34,"t":250,"v":-9500},{"s":34,"t":500,"v":-9200},{"s":34,"t":900,"v":-9800},{"s":34,"t":1740,"v":-9900},
{"s":35,"t":0,"v":-9000},{"s":35,"t":100,"v":-11500},{"s":35,"t":300,"v":-12500},{"s":35,"t":600,"v":-13800},{"s":35,"t":1000,"v":-14000},{"s":35,"t":1740,"v":-14000},
{"s":36,"t":0,"v":-6500},{"s":36,"t":50,"v":-6800},{"s":36,"t":250,"v":-7800},{"s":36,"t":500,"v":-8800},{"s":36,"t":900,"v":-10500},{"s":36,"t":1740,"v":-10800},
{"s":37,"t":0,"v":-10000},{"s":37,"t":120,"v":-13000},{"s":37,"t":350,"v":-15500},{"s":37,"t":700,"v":-16300},{"s":37,"t":1740,"v":-16600},
{"s":38,"t":0,"v":-8000},{"s":38,"t":60,"v":-8500},{"s":38,"t":250,"v":-10000},{"s":38,"t":500,"v":-11800},{"s":38,"t":900,"v":-12200},{"s":38,"t":1740,"v":-12000}
],
"em": [
{"t":5,"v":-20000},{"t":25,"v":-6000},{"t":55,"v":-5500},{"t":150,"v":-5450},{"t":297,"v":-5600},{"t":343,"v":-6100},{"t":400,"v":-5700},{"t":458,"v":-5200},{"t":515,"v":-7450},{"t":619,"v":-7850},{"t":895,"v":-7950},{"t":1125,"v":-8300},{"t":1332,"v":-8050},{"t":1500,"v":-8250},{"t":1746,"v":-8450}
]
},
"vconcat": [
{
"hconcat": [
{
"width": 248, "height": 154,
"title": {"text": "(a) Oil production rate", "orient": "bottom", "anchor": "middle", "frame": "bounds", "offset": 19, "baseline": "top"},
"layer": [
{"data": {"name": "a"}, "mark": {"type": "line", "color": "#8c8c8c", "clip": true},
 "encoding": {
  "x": {"field": "t", "type": "quantitative", "scale": {"domain": [0, 1800], "nice": false}, "axis": {"title": "Time (Days)", "values": [0, 300, 600, 900, 1200, 1500, 1800], "tickCount": 50, "format": "d", "labelOverlap": false}},
  "y": {"field": "v", "type": "quantitative", "scale": {"domain": [0, 1414], "nice": false}, "axis": {"title": "OPR (STB/day)", "values": [0, 200, 400, 600, 800, 1000, 1200, 1400], "tickCount": 50, "format": "d", "labelOverlap": false}},
  "detail": {"field": "s", "type": "nominal"}}},
{"data": {"name": "am"}, "mark": {"type": "line", "color": "black", "strokeWidth": 2.2, "clip": true},
 "encoding": {"x": {"field": "t", "type": "quantitative"}, "y": {"field": "v", "type": "quantitative"}}}
]
},
{
"width": 260, "height": 152,
"title": {"text": "(b) Producing gas-oil ratio", "orient": "bottom", "anchor": "middle", "frame": "bounds", "offset": 19, "baseline": "top"},
"layer": [
{"data": {"name": "b"}, "mark": {"type": "line", "color": "#8c8c8c", "clip": true},
 "encoding": {
  "x": {"field": "t", "type": "quantitative", "scale": {"domain": [0, 1800], "nice": false}, "axis": {"title": "Time (Days)", "values": [0, 300, 600, 900, 1200, 1500, 1800], "tickCount": 50, "format": "d", "labelOverlap": false}},
  "y": {"field": "v", "type": "quantitative", "scale": {"domain": [0, 1020], "nice": false}, "axis": {"title": "GOR (MSCF/STB)", "values": [0, 200, 400, 600, 800, 1000], "tickCount": 50, "format": "d", "labelOverlap": false}},
  "detail": {"field": "s", "type": "nominal"}}},
{"data": {"name": "bm"}, "mark": {"type": "line", "color": "black", "strokeWidth": 2.2, "clip": true},
 "encoding": {"x": {"field": "t", "type": "quantitative"}, "y": {"field": "v", "type": "quantitative"}}}
]
},
{
"width": 257, "height": 152,
"title": {"text": ["(c)\u2002Liquid-phase\u2002CO\u2082\u2002mole", "fraction"], "orient": "bottom", "anchor": "start", "align": "left", "frame": "bounds", "offset": 19, "baseline": "top", "lineHeight": 34, "dx": -8},
"layer": [
{"data": {"name": "c"}, "mark": {"type": "line", "color": "#8c8c8c", "clip": true},
 "encoding": {
  "x": {"field": "t", "type": "quantitative", "scale": {"domain": [0, 1800], "nice": false}, "axis": {"title": "Time (Days)", "values": [0, 300, 600, 900, 1200, 1500, 1800], "tickCount": 50, "format": "d", "labelOverlap": false}},
  "y": {"field": "v", "type": "quantitative", "scale": {"domain": [0, 0.018], "nice": false}, "axis": {"title": "WXMF", "values": [0, 0.003, 0.006, 0.009, 0.012, 0.015, 0.018], "tickCount": 50, "labelExpr": "datum.value == 0 ? '0' : format(datum.value, '.3f')", "labelOverlap": false}},
  "detail": {"field": "s", "type": "nominal"}}},
{"data": {"name": "cm"}, "mark": {"type": "line", "color": "black", "strokeWidth": 2.2, "clip": true},
 "encoding": {"x": {"field": "t", "type": "quantitative"}, "y": {"field": "v", "type": "quantitative"}}}
]
}
],
"spacing": 108,
"bounds": "flush"
},
{
"hconcat": [
{"width": 120, "height": 10, "data": {"values": []}, "mark": {"type": "point", "opacity": 0}, "view": {"stroke": null}},
{
"width": 273, "height": 165,
"title": {"text": ["(d) Gas-phase CO\u2082 mole frac-", "tion"], "orient": "bottom", "anchor": "start", "align": "left", "frame": "bounds", "offset": 20, "baseline": "top", "lineHeight": 34, "dx": -16},
"layer": [
{"data": {"name": "d"}, "mark": {"type": "line", "color": "#8c8c8c", "clip": true},
 "encoding": {
  "x": {"field": "t", "type": "quantitative", "scale": {"domain": [0, 1800], "nice": false}, "axis": {"title": "Time (Days)", "values": [0, 300, 600, 900, 1200, 1500, 1800], "tickCount": 50, "format": "d", "labelOverlap": false}},
  "y": {"field": "v", "type": "quantitative", "scale": {"domain": [0, 1.005], "nice": false}, "axis": {"title": "WYMF", "values": [0, 0.2, 0.4, 0.6, 0.8, 1], "tickCount": 50, "labelExpr": "datum.value == 0 ? '0' : datum.value == 1 ? '1.' : format(datum.value, '.1f')", "labelOverlap": false}},
  "detail": {"field": "s", "type": "nominal"}}},
{"data": {"name": "dm"}, "mark": {"type": "line", "color": "black", "strokeWidth": 2.2, "clip": true},
 "encoding": {"x": {"field": "t", "type": "quantitative"}, "y": {"field": "v", "type": "quantitative"}}}
]
},
{"width": 109, "height": 10, "data": {"values": []}, "mark": {"type": "point", "opacity": 0}, "view": {"stroke": null}},
{
"width": 223, "height": 154,
"title": {"text": "(e) CO\u2082 injection rate", "orient": "bottom", "anchor": "middle", "frame": "bounds", "offset": 31, "baseline": "top"},
"layer": [
{"data": {"name": "e"}, "mark": {"type": "line", "color": "#8c8c8c", "clip": true},
 "encoding": {
  "x": {"field": "t", "type": "quantitative", "scale": {"domain": [0, 1800], "nice": false}, "axis": {"title": "Time (Days)", "values": [0, 300, 600, 900, 1200, 1500, 1800], "tickCount": 50, "format": "d", "labelOverlap": false}},
  "y": {"field": "v", "type": "quantitative", "scale": {"domain": [-20000, 0], "nice": false}, "axis": {"title": "WCMIR (lb moles/day)", "values": [-20000, -15000, -10000, -5000, 0], "tickCount": 50, "labelExpr": "datum.value == 0 ? '0' : abs(datum.value) < 10000 ? format(datum.value, 'd') : replace(format(datum.value, ','), ',', '\u2009')", "labelOverlap": false}},
  "detail": {"field": "s", "type": "nominal"}}},
{"data": {"name": "em"}, "mark": {"type": "line", "color": "black", "strokeWidth": 2.2, "clip": true},
 "encoding": {"x": {"field": "t", "type": "quantitative"}, "y": {"field": "v", "type": "quantitative"}}}
]
}
],
"spacing": 20,
"bounds": "flush"
}
],
"spacing": 29,
"bounds": "full"
}
